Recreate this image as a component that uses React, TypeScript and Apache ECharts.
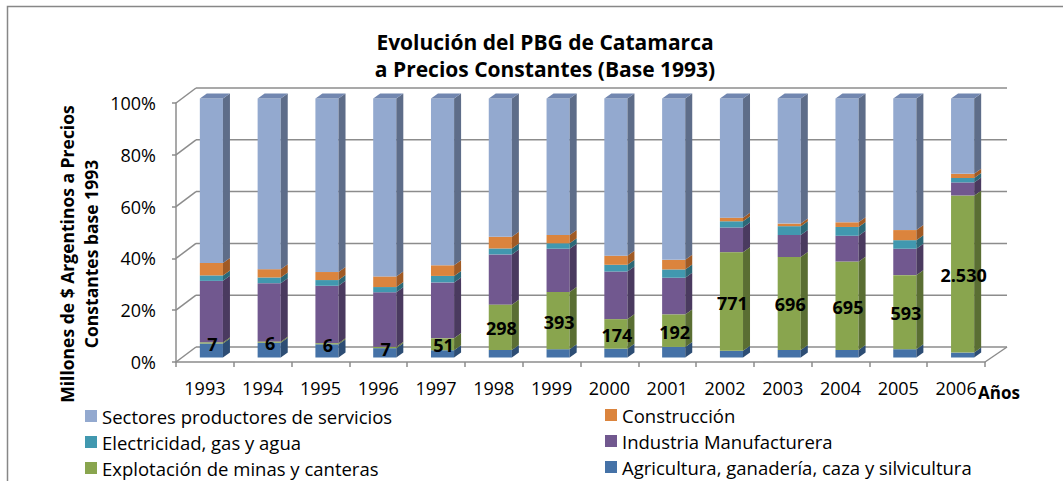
import React, { useEffect, useRef } from "react";
import * as echarts from "echarts";

const categories = ["1993", "1994", "1995", "1996", "1997", "1998", "1999", "2000", "2001", "2002", "2003", "2004", "2005", "2006"];
const yTicks = [0, 20, 40, 60, 80, 100];

// shares (%) of each sector, bottom to top
const agricultura = [5.4, 5.7, 5.1, 3.6, 2.8, 2.9, 3.2, 3.4, 4.1, 2.6, 2.9, 2.9, 3.2, 1.9];
const minas = [0.4, 0.4, 0.4, 0.5, 4.6, 17.5, 22.1, 11.4, 12.5, 38.0, 35.9, 34.1, 28.6, 60.6];
const industria = [23.8, 22.6, 22.2, 21.1, 21.6, 19.4, 16.7, 18.4, 14.2, 9.6, 8.5, 10.0, 10.2, 5.1];
const electricidad = [2.1, 2.2, 2.2, 2.0, 2.5, 2.3, 2.1, 2.6, 3.2, 2.4, 3.4, 3.4, 3.3, 1.7];
const construccion = [4.8, 3.2, 3.1, 4.1, 4.1, 4.5, 3.2, 3.5, 3.7, 1.4, 1.0, 1.8, 3.9, 1.6];
const servicios = [63.5, 65.9, 67.0, 68.7, 64.4, 53.4, 52.7, 60.7, 62.3, 46.0, 48.3, 47.8, 50.8, 29.1];

// data labels: mining output, millions of constant 1993 pesos
const minasMillones = [7, 6, 6, 7, 51, 298, 393, 174, 192, 771, 696, 695, 593, 2530];

const sectors = [
  { name: "Agricultura, ganadería, caza y silvicultura", values: agricultura, front: "#4572A7", side: "#2D4D74" },
  { name: "Explotación de minas y canteras", values: minas, front: "#89A54E", side: "#5A6E33" },
  { name: "Industria Manufacturera", values: industria, front: "#71588F", side: "#4A3A5F" },
  { name: "Electricidad, gas y agua", values: electricidad, front: "#4198AF", side: "#2C6877" },
  { name: "Construcción", values: construccion, front: "#DB843D", side: "#A05A24" },
  { name: "Sectores productores de servicios", values: servicios, front: "#93A9CF", side: "#5E6D89" },
];

const FONT = "'Open Sans', 'Noto Sans', sans-serif";
const GRAY = "#8c8c8c";

function fmt(n: number) {
  return String(n).replace(/\B(?=(\d{3})+(?!\d))/g, ".");
}

export default function App() {
  const ref = useRef<HTMLDivElement>(null);
  useEffect(() => {
    if (!ref.current) return;
    const chart = echarts.init(ref.current, null, { renderer: "svg" });

    const wallDX = 20, wallDY = -15;
    const barOX = 6.5, barOY = -4.5, depthX = 7, depthY = -5;

    const wallSeries = {
      type: "custom",
      silent: true,
      z: 1,
      data: [[0, 0]],
      encode: { x: 0, y: 1 },
      renderItem: (params: any, api: any) => {
        const bw = api.size([1, 0])[0];
        const x0 = api.coord([0, 0])[0] - bw / 2;
        const x1 = api.coord([categories.length - 1, 0])[0] + bw / 2;
        const children: any[] = [];
        const ls = { stroke: GRAY, lineWidth: 1.5 };
        yTicks.forEach((v) => {
          const y = api.coord([0, v])[1];
          children.push({ type: "line", shape: { x1: x0, y1: y, x2: x0 + wallDX, y2: y + wallDY }, style: ls });
          children.push({ type: "line", shape: { x1: x0 + wallDX, y1: y + wallDY, x2: x1 + wallDX + 2, y2: y + wallDY }, style: ls });
        });
        const y0 = api.coord([0, 0])[1];
        children.push({ type: "line", shape: { x1: x1, y1: y0, x2: x1 + wallDX + 2, y2: y0 + wallDY }, style: ls });
        return { type: "group", children };
      },
    };

    const barSeries = sectors.map((s, si) => {
      const data = categories.map((_, i) => {
        let base = 0;
        for (let k = 0; k < si; k++) base += sectors[k].values[i];
        return [i, base, base + s.values[i]];
      });
      const isTop = si === sectors.length - 1;
      const isMinas = si === 1;
      return {
        type: "custom",
        name: s.name,
        silent: true,
        z: isMinas ? 3 : 2,
        itemStyle: { color: s.front },
        data,
        encode: { x: 0, y: [1, 2] },
        renderItem: (params: any, api: any) => {
          const i = api.value(0);
          const st = api.value(1);
          const en = api.value(2);
          const bw = api.size([1, 0])[0];
          const w = bw * 0.4;
          const c = api.coord([i, st]);
          const ct = api.coord([i, en]);
          const xa = c[0] - w / 2 + barOX;
          const xb = xa + w;
          const yb = c[1] + barOY;
          const yt = ct[1] + barOY;
          const children: any[] = [
            { type: "rect", shape: { x: xa, y: yt, width: w, height: Math.max(0.01, yb - yt) }, style: { fill: s.front } },
            {
              type: "polygon",
              shape: { points: [[xb, yb], [xb + depthX, yb + depthY], [xb + depthX, yt + depthY], [xb, yt]] },
              style: { fill: s.side },
            },
          ];
          if (isTop) {
            children.push({
              type: "polygon",
              shape: { points: [[xa, yt], [xb, yt], [xb + depthX, yt + depthY], [xa + depthX, yt + depthY]] },
              style: { fill: "#7287B0" },
            });
          }
          if (isMinas) {
            children.push({
              type: "text",
              z2: 10,
              style: {
                text: fmt(minasMillones[i]),
                x: xa + w / 2 + 1,
                y: (yb + yt) / 2 + 1,
                align: "center",
                verticalAlign: "middle",
                fontFamily: FONT,
                fontWeight: "bold",
                fontSize: 18,
                fill: "#000",
              },
            });
          }
          return { type: "group", children };
        },
      };
    });

    const legendBase = {
      orient: "vertical",
      icon: "rect",
      itemWidth: 12,
      itemHeight: 12,
      itemGap: 6,
      height: 120,
      padding: 0,
      selectedMode: false,
      textStyle: { fontFamily: FONT, fontSize: 18.5, color: "#000", lineHeight: 20 },
    };

    const option = {
      animation: false,
      backgroundColor: "#ffffff",
      title: {
        text: "Evolución del PBG de Catamarca\na Precios Constantes (Base 1993)",
        left: 545,
        top: 28,
        padding: 0,
        textAlign: "center",
        textStyle: { fontFamily: FONT, fontWeight: "bold", fontSize: 21, lineHeight: 27, color: "#000" },
      },
      legend: [
        {
          ...legendBase,
          left: 85,
          top: 406,
          data: ["Sectores productores de servicios", "Electricidad, gas y agua", "Explotación de minas y canteras"],
        },
        {
          ...legendBase,
          left: 605,
          top: 405,
          data: ["Construcción", "Industria Manufacturera", "Agricultura, ganadería, caza y silvicultura"],
        },
      ],
      grid: { left: 176, right: 78, top: 103, bottom: 119 },
      xAxis: {
        type: "category",
        data: categories,
        axisLine: { show: true, lineStyle: { color: GRAY, width: 1.5 } },
        axisTick: { show: true, length: 5, lineStyle: { color: GRAY, width: 1.5 } },
        axisLabel: { margin: 17, fontFamily: FONT, fontSize: 18, color: "#000" },
        splitLine: { show: false },
      },
      yAxis: {
        type: "value",
        min: yTicks[0],
        max: yTicks[yTicks.length - 1],
        interval: 20,
        axisLine: { show: true, lineStyle: { color: GRAY, width: 1.5 } },
        axisTick: { show: true, length: 4, lineStyle: { color: GRAY, width: 1.5 } },
        axisLabel: { margin: 20, formatter: "{value}%", fontFamily: FONT, fontSize: 18, color: "#000" },
        splitLine: { show: false },
      },
      graphic: [
        {
          type: "rect",
          silent: true,
          shape: { x: 7.5, y: 6.5, width: 1200, height: 800 },
          style: { fill: "none", stroke: "#878787", lineWidth: 1.5 },
        },
        {
          type: "text",
          x: 79,
          y: 254,
          rotation: Math.PI / 2,
          style: {
            text: "Millones de $ Argentinos a Precios\nConstantes base 1993",
            align: "center",
            verticalAlign: "middle",
            lineHeight: 24,
            fontFamily: FONT,
            fontWeight: "bold",
            fontSize: 17.5,
            fill: "#000",
          },
        },
        {
          type: "text",
          x: 977,
          y: 392,
          z: 100,
          style: {
            text: "Años",
            align: "left",
            verticalAlign: "middle",
            fontFamily: FONT,
            fontWeight: "bold",
            fontSize: 17,
            fill: "#000",
            backgroundColor: "#fff",
            padding: [0, 0, 0, 1],
          },
        },
      ],
      series: [wallSeries, ...barSeries],
    };

    chart.setOption(option as any);
    return () => chart.dispose();
  }, []);

  return (
    <div
      ref={ref}
      style={{ position: "fixed", left: 0, top: 0, width: 1063, height: 481, background: "#fff" }}
    />
  );
}
